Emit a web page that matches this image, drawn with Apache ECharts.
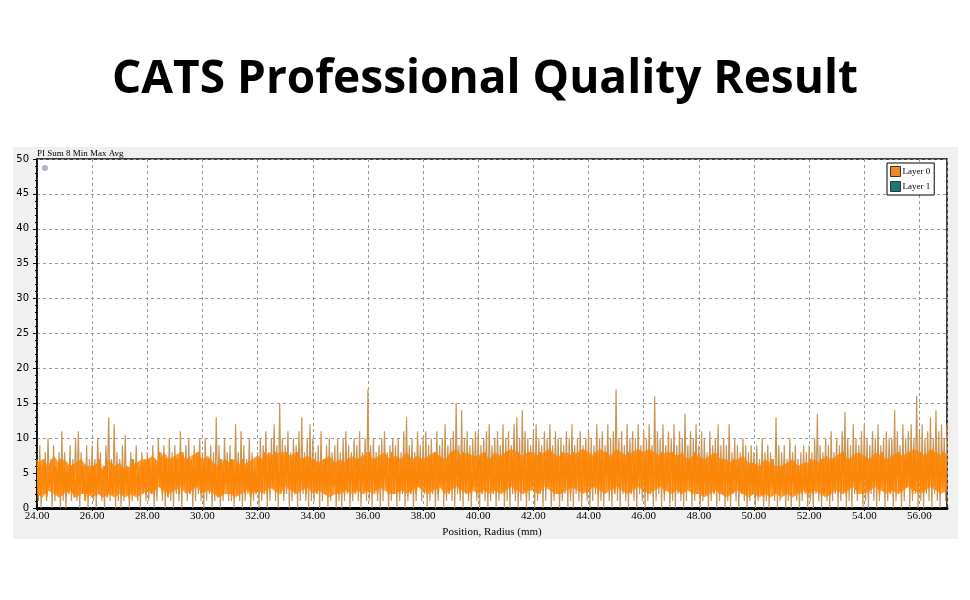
<!DOCTYPE html>
<html><head><meta charset="utf-8">
<script src="https://cdn.jsdelivr.net/npm/echarts@6/dist/echarts.min.js"></script>
<style>html,body{margin:0;padding:0;background:#fff}#c{width:970px;height:600px}</style>
</head><body><div id="c"></div>
<script>
const titleText = 'CATS Professional Quality Result';
const chartLabel = 'PI Sum 8 Min Max Avg';
const xAxisName = 'Position, Radius (mm)';
const legendNames = ['Layer 0', 'Layer 1'];
const xMin = 24, xMax = 57, xTickStep = 2;
const yMin = 0, yMax = 50, yTickStep = 5;

// Layer 0 min/max swings, one value every 0.05 mm from 24.00 mm
const envStart = 24.0, envStep = 0.05;
const layer0Envelope = [
  7,1,9,0,6,2,8,1,10,3,7,0,9,1,6,2,8,0,11,1,
  8,0,6,2,9,1,7,3,10,1,11,0,8,2,6,1,9,0,7,2,
  9,1,7,0,10,2,8,1,6,0,9,3,13,1,7,2,12,0,8,1,
  7,0,9,1,10.5,2,6,0,8,1,7,3,9,1,6,0,8,2,7,1,
  8,1,6,2,9,0,7,1,10,3,8,1,9,0,7,2,10,1,8,0,
  9,2,7,1,11,0,8,3,9,1,10,2,7,0,9,1,8,2,10,1,
  8,0,10,1,7,2,9,0,8,1,13,2,9,0,7,1,10,3,8,1,
  9,1,7,0,12,2,8,1,11,0,9,1,7,2,10,0,8,1,6,2,
  8,0,10,1,9,2,11,0,8,1,10,3,12,1,9,0,15,2,10,1,
  9,2,11,0,8,1,10,3,9,0,11,1,13,2,8,1,10,0,12,1,
  10,1,8,2,9,0,11,1,7,2,9,0,10,1,8,3,9,0,10,1,
  8,0,10,1,11,2,9,0,8,1,10,3,9,1,11,0,8,2,10,1,
  17,1,9,0,10,2,8,1,9,0,10,1,11,3,8,0,9,1,10,2,
  9,0,10,1,8,2,11,0,13,1,9,2,10,0,8,1,11,3,9,1,
  10,2,11,0,9,1,10,2,8,0,11,1,9,3,10,0,12,1,9,2,
  10,1,11,0,15,2,9,1,14,0,10,2,11,1,9,0,10,3,11,1,
  11,0,9,2,10,1,11,0,12,1,9,3,10,0,11,1,9,2,12,0,
  10,1,11,0,9,2,12,1,13,0,10,1,14,2,11,0,10,1,9,3,
  11,0,12,1,10,2,9,0,11,1,10,3,12,0,9,1,11,2,10,0,
  10,1,9,2,11,0,10,1,12,0,9,2,10,1,11,0,9,3,10,1,
  11,0,10,1,9,2,12,0,10,1,11,0,9,3,12,1,10,0,11,2,
  17,1,10,0,11,2,9,1,12,0,10,3,11,1,10,0,12,2,9,1,
  11,0,10,1,12,2,9,0,16,1,11,2,10,0,12,1,9,3,11,0,
  10,1,12,0,9,2,11,1,10,0,13.5,1,9,3,11,0,10,1,12,2,
  9,0,11,1,10,2,8,0,11,1,9,3,10,0,12,1,9,2,10,0,
  9,1,12,0,8,2,10,1,9,0,8,2,10,1,9,0,8,1,9,2,
  8,0,9,1,7,2,10,0,8,1,9,0,8,3,7,1,13,0,9,1,
  8,2,9,0,7,1,10,0,8,2,9,1,7,0,8,1,9,2,8,0,
  9,1,8,0,10,2,13.5,1,9,0,8,3,10,1,9,0,11,1,8,2,
  10,0,9,1,11,2,13.8,0,10,1,9,0,12,2,10,1,9,3,11,0,
  12,1,10,0,9,2,11,1,10,0,12,1,9,3,10,0,11,1,10,2,
  10,0,14,1,11,2,9,0,12,1,10,3,11,0,12,1,10,2,16,0,
  11,1,12,0,10,2,11,1,13,0,10,2,14,1,11,0,12,3,10,1,
  12
];

// Layer 0 average band edges, one value every 0.2 mm from 24.0 mm
const bandStart = 24.0, bandStep = 0.2;
const layer0BandUpper = [
  6.5,7,6,7.5,6.5, 7,6,6.5,7,6, 6,6.5,5.5,7,6, 6.5,5.5,6,6.5,7,
  7,7.5,6.5,8,7, 7.5,8,7,7.5,8, 7,7.5,6.5,6,7, 6.5,7,6,6.5,7,
  7.5,7,8,7.5,8, 8,7.5,8,7,7.5, 7,6.5,7,7.5,6.5, 7,6.5,7.5,7,7.5,
  8,7,7.5,8,7, 7.5,7,8,7,7.5, 7,7.5,8,7.5,7, 8,8.5,7.5,8,7.5,
  7.5,8,7,8,7.5, 8,8.5,8,7.5,8, 8,7.5,8,8.5,7.5, 7.5,8,7.5,8,8.5,
  8,7.5,8.5,8,7.5, 8.5,8,7.5,8,8.5, 8,8.5,8,7.5,8, 8,7.5,8,7,7.5,
  7.5,7,7.5,8,7, 7,6.5,7,7.5,6.5, 6.5,6,7,6.5,6, 6,6.5,7,6,6.5,
  6.5,7,6.5,7.5,7, 7.5,8,7,7.5,8, 7.5,7,8,7.5,7, 7.5,8,7.5,8,8.5,
  8,7.5,8.5,8,7.5, 8
];
const layer0BandLower = [
  2,1.5,2.5,2,1.5, 2,2.5,1.5,2,2, 1.5,2,1.5,2,1.5, 2,1.5,2,1.5,2,
  2.5,2,3,2.5,2, 2.5,3,2,2.5,3, 2,2.5,2,1.5,2, 2,1.5,2,2.5,2,
  2.5,2,3,2.5,2, 3,2.5,2,2.5,3, 2,2.5,2,1.5,2, 2,2.5,2,2.5,2,
  2.5,2,3,2.5,2, 2,2.5,2,2.5,3, 2.5,2,2.5,3,2, 2.5,3,2.5,2,2.5,
  2,2.5,2,2.5,2, 2.5,3,2.5,2,2.5, 2.5,2,3,2.5,2, 2,2.5,3,2.5,2,
  2.5,3,2.5,2,2.5, 3,2.5,2,2.5,3, 2.5,2,2.5,3,2.5, 2,2.5,2,2.5,2,
  2,1.5,2,2.5,2, 1.5,2,2.5,2,1.5, 2,1.5,2,1.5,2, 1.5,2,1.5,2,2.5,
  2,2.5,2,1.5,2, 2.5,2,2.5,3,2, 2,2.5,3,2.5,2, 2.5,2,2.5,3,2.5,
  2,2.5,3,2.5,2, 2.5
];

// Layer 0 average swings, one value every 0.1 mm from 24.05 mm
const coreStart = 24.05, coreStep = 0.1;
const layer0Core = [
  6,2,7,1.5,5,3,6,2,7,2, 5,2,6,1.5,5,3,6,1,5,2,
  6,2,7,3,6,1.5,5,2,6,3, 5,2,6,1.5,7,2,5,3,6,2,
  7,2,6,3,8,2,7,1.5,6,3, 7,2,8,3,7,2,6,3,8,2,
  6,3,7,2,6,1.5,7,2,6,3, 7,2,6,3,7,2,6,1.5,5,2,
  7,3,8,2,7,3,8,2,7,2, 8,3,7,2,8,3,7,2,6,3,
  7,2,6,3,7,2,6,3,5,2, 6,2,7,3,6,2,7,3,6,2,
  8,3,7,2,6,3,7,2,8,3, 7,2,6,3,7,2,6,2,7,3,
  6,2,7,3,8,2,7,3,6,2, 8,3,7,2,8,3,7,2,6,3,
  7,2,8,3,7,2,6,3,7,2, 8,3,7,2,8,3,7,2,8,3,
  7,2,8,3,7,3,8,2,7,3, 8,3,7,2,8,3,7,3,8,2,
  7,3,8,2,7,3,8,3,7,2, 8,3,7,3,8,2,7,3,8,3,
  7,2,8,3,7,3,8,2,7,3, 8,3,7,2,6,3,7,2,8,3,
  7,2,6,3,7,2,6,2,7,3, 6,2,7,3,6,2,5,2,6,3,
  6,2,5,1.5,6,2,7,2,5,2, 6,2,5,3,6,2,5,2,6,1.5,
  7,2,6,3,7,2,6,2,7,3, 7,3,8,2,7,3,6,2,7,3,
  7,2,6,3,7,2,8,3,6,2, 7,3,8,2,7,3,8,2,7,3,
  8,2,7,3,8,3,7,2,8,3
];

const envData = layer0Envelope.map((v, i) => [envStart + i * envStep, v]);
const coreData = layer0Core.map((v, i) => [coreStart + i * coreStep, v]);
const bandData = layer0BandUpper.map((v, i) => [bandStart + i * bandStep, layer0BandLower[i], v]);

const chart = echarts.init(document.getElementById('c'), null, {renderer: 'canvas'});
const serif = '"Liberation Serif", "DejaVu Serif", serif';
const ORANGE = '#ff8400';
const TAN = '#c99554';

function renderBand(params, api) {
  const i = params.dataIndex;
  if (i >= bandData.length - 1) return null;
  const a = bandData[i], b = bandData[i + 1];
  const pts = [api.coord([a[0], a[2]]), api.coord([b[0], b[2]]), api.coord([b[0], b[1]]), api.coord([a[0], a[1]])];
  return {type: 'polygon', shape: {points: pts}, style: {fill: ORANGE, opacity: 0.82}};
}

chart.setOption({
  animation: false,
  backgroundColor: '#ffffff',
  graphic: [
    {type: 'rect', z: -10, shape: {x: 13, y: 147, width: 945, height: 392}, style: {fill: '#f0f0f0'}},
    {type: 'text', left: 'center', top: 57, z: 10, style: {text: titleText, font: 'bold 46px "Open Sans", sans-serif', fill: '#000'}},
    {type: 'text', x: 37, y: 149, z: 10, style: {text: chartLabel, font: '9px ' + serif, fill: '#000'}},
    {type: 'circle', z: 10, shape: {cx: 45, cy: 168, r: 3}, style: {fill: '#aab6c4'}}
  ],
  grid: {left: 37, top: 159, right: 23, bottom: 92, show: true, backgroundColor: '#ffffff', borderColor: '#000', borderWidth: 1.5},
  legend: {
    data: [
      {name: legendNames[0], itemStyle: {color: '#f08a24', borderColor: '#333', borderWidth: 1}},
      {name: legendNames[1], itemStyle: {color: '#1d7878', borderColor: '#333', borderWidth: 1}}
    ],
    orient: 'vertical', left: 887, top: 163, icon: 'rect', itemWidth: 10, itemHeight: 10, itemGap: 4,
    padding: [3, 4, 3, 3], backgroundColor: '#fff', borderColor: '#000', borderWidth: 1,
    textStyle: {fontFamily: serif, fontSize: 9, color: '#000', padding: [0, 0, 0, -3]}
  },
  xAxis: {
    type: 'value', min: xMin, max: xMax, interval: xTickStep,
    name: xAxisName, nameLocation: 'middle', nameGap: 17,
    nameTextStyle: {fontFamily: serif, fontSize: 11, color: '#000'},
    axisLine: {show: true, onZero: false, lineStyle: {color: '#000', width: 3}},
    axisTick: {show: true, length: 3, lineStyle: {color: '#000'}},
    axisLabel: {formatter: v => v.toFixed(2), fontFamily: serif, fontSize: 11, color: '#000', margin: 3, showMaxLabel: false},
    splitLine: {show: true, lineStyle: {color: '#999', type: [3, 3], width: 1}}
  },
  yAxis: {
    type: 'value', min: yMin, max: yMax, interval: yTickStep,
    axisLine: {show: true, lineStyle: {color: '#000', width: 1.5}},
    axisTick: {show: true, length: 4, lineStyle: {color: '#000'}},
    minorTick: {show: true, splitNumber: 5, length: 2, lineStyle: {color: '#000'}},
    axisLabel: {fontFamily: '"DejaVu Sans", sans-serif', fontSize: 10, color: '#000', margin: 8},
    splitLine: {show: true, lineStyle: {color: '#999', type: [3, 3], width: 1}}
  },
  series: [
    {name: legendNames[0], type: 'line', data: envData, symbol: 'none', z: 1,
     lineStyle: {color: TAN, width: 1.2}, itemStyle: {color: '#f08a24'}},
    {name: legendNames[0], type: 'custom', data: bandData, renderItem: renderBand, z: 2, silent: true,
     encode: {x: 0, y: [1, 2]}, itemStyle: {color: '#f08a24'}},
    {name: legendNames[0], type: 'line', data: coreData, symbol: 'none', z: 3,
     lineStyle: {color: ORANGE, width: 1.5}, itemStyle: {color: '#f08a24'}},
    {name: legendNames[1], type: 'line', data: [], itemStyle: {color: '#1d7878'}}
  ]
});
</script></body></html>
